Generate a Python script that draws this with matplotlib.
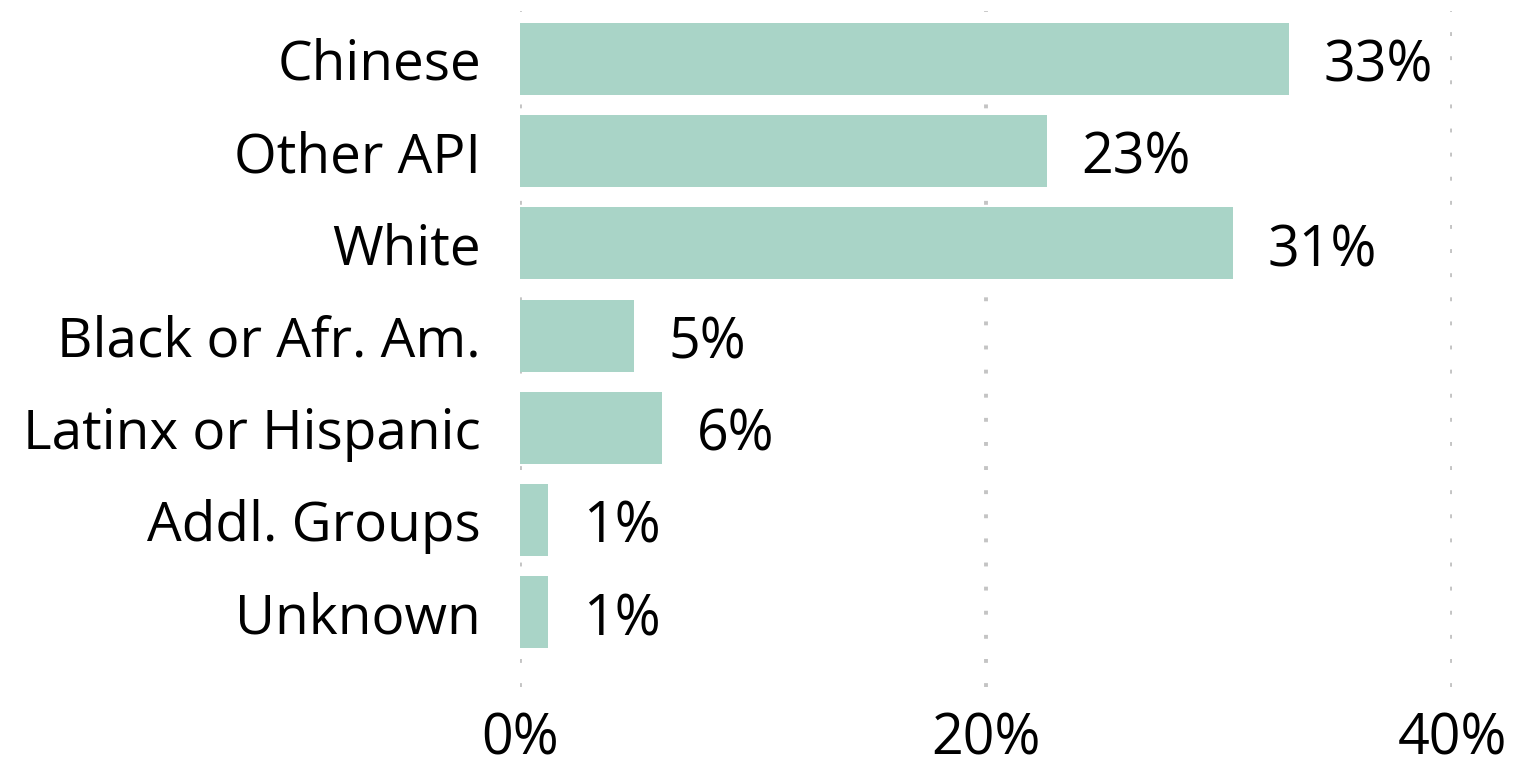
import numpy as np
import matplotlib
matplotlib.use('Agg')
import matplotlib.pyplot as plt
from matplotlib.ticker import FuncFormatter

plt.rcParams['font.family'] = ['Open Sans', 'DejaVu Sans']

# Share of people by group (percent)
groups = ['Chinese', 'Other API', 'White', 'Black or Afr. Am.',
          'Latinx or Hispanic', 'Addl. Groups', 'Unknown']
shares = [33.0, 22.6, 30.6, 4.9, 6.1, 1.2, 1.2]
x_ticks = [0, 20, 40]

bar_color = '#a9d4c7'
grid_color = '#c4c4c4'

fig = plt.figure(figsize=(15.38, 7.68), dpi=100)
ax = fig.add_axes([0.3381, 0.1055, 0.9441 - 0.3381, 0.9857 - 0.1055])

y = np.arange(len(groups))
ax.barh(y, shares, height=0.78, color=bar_color, zorder=2)

for yi, v in zip(y, shares):
    ax.annotate(f'{round(v)}%', xy=(v, yi), xytext=(25, -6),
                textcoords='offset points', ha='left', va='center',
                fontsize=40, color='black')

ax.set_xlim(0, 40)
ax.set_ylim(len(groups) - 1 + 0.81, -0.52)
ax.set_yticks(y)
ax.set_yticklabels(groups, fontsize=39.5)
ax.set_xticks(x_ticks)
ax.xaxis.set_major_formatter(FuncFormatter(lambda v, p: f'{v:.0f}%'))
ax.tick_params(axis='x', labelsize=40, length=0, pad=18)
ax.tick_params(axis='y', length=0, pad=28)

for s in ax.spines.values():
    s.set_visible(False)

ax.grid(axis='x', color=grid_color, linewidth=2.8, linestyle=(0, (1, 5.2)),
        dash_capstyle='butt', zorder=0)
ax.set_axisbelow(True)

fig.savefig('out.png', dpi=100)
